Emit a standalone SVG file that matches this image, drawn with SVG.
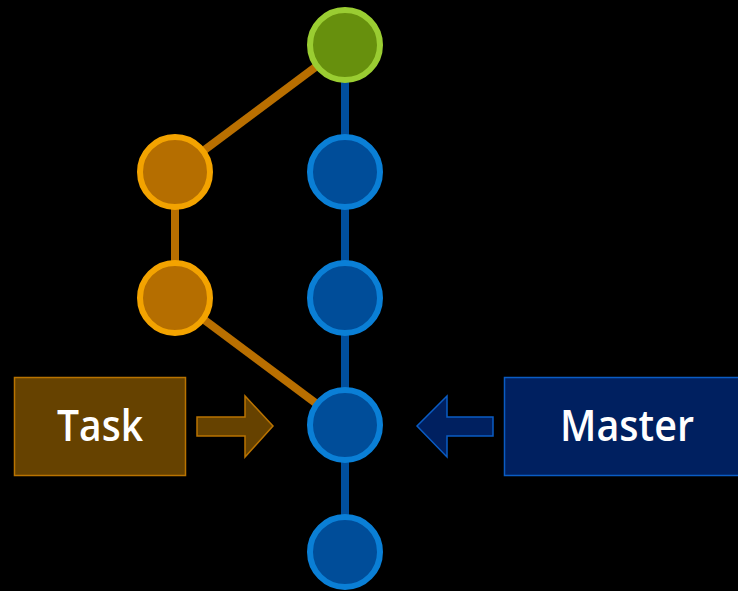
<svg xmlns="http://www.w3.org/2000/svg" width="738" height="591" viewBox="0 0 738 591">
<style>
.bl{stroke:#004f9e;stroke-width:8;fill:none}
.ol{stroke:#b96f00;stroke-width:8;fill:none}
.bn{fill:#004d99;stroke:#0a7fd6;stroke-width:6}
.on{fill:#b56e00;stroke:#f3a300;stroke-width:6}
.gn{fill:#67900d;stroke:#9acd32;stroke-width:6}
.lbl{font-family:"Open Sans","Liberation Sans",sans-serif;font-weight:600;font-size:44px;fill:#fff;text-anchor:middle}
</style>
<rect width="738" height="591" fill="#000"/>
<g id="connectors">
<line class="bl" x1="345" y1="45" x2="345" y2="552"/>
<line class="ol" x1="345" y1="45" x2="175" y2="172"/>
<line class="ol" x1="175" y1="172" x2="175" y2="298"/>
<line class="ol" x1="175" y1="298" x2="345" y2="425"/>
</g>
<g id="c0"><circle class="gn" cx="345" cy="45" r="35"/></g>
<g id="c1"><circle class="bn" cx="345" cy="172" r="35"/></g>
<g id="c2"><circle class="bn" cx="345" cy="298" r="35"/></g>
<g id="c3"><circle class="bn" cx="345" cy="425" r="35"/></g>
<g id="c4"><circle class="bn" cx="345" cy="552" r="35"/></g>
<g id="t1"><circle class="on" cx="175" cy="172" r="35"/></g>
<g id="t2"><circle class="on" cx="175" cy="298" r="35"/></g>
<g id="task">
<rect x="14.5" y="377.5" width="171" height="98" fill="#664200" stroke="#b97300" stroke-width="1.5"/>
<text class="lbl" x="100" y="441" textLength="86" lengthAdjust="spacingAndGlyphs">Task</text>
</g>
<g id="task-arrow">
<polygon points="197,417 245,417 245,396 273,426 245,457 245,436 197,436" fill="#664200" stroke="#b97300" stroke-width="1.5"/>
</g>
<g id="master">
<rect x="504.5" y="377.5" width="240" height="98" fill="#002060" stroke="#0a5cc4" stroke-width="1.5"/>
<text class="lbl" x="627" y="441" textLength="134" lengthAdjust="spacingAndGlyphs">Master</text>
</g>
<g id="master-arrow">
<polygon points="493,417 447,417 447,396 417,426 447,457 447,436 493,436" fill="#002060" stroke="#0a5cc4" stroke-width="1.5"/>
</g>
</svg>
